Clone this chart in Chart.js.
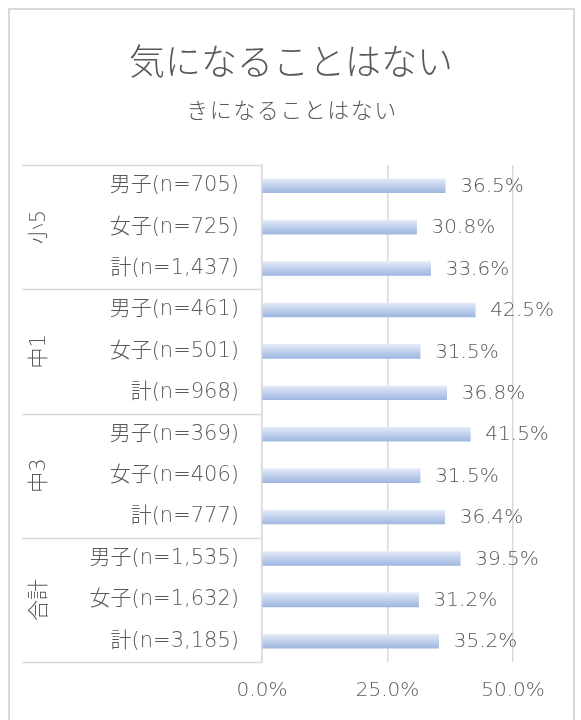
<!DOCTYPE html>
<html>
<head>
<meta charset="utf-8">
<script src="https://cdn.jsdelivr.net/npm/chart.js@4"></script>
<style>
  html, body { margin: 0; padding: 0; background: #fff; }
  #wrap { width: 581px; height: 720px; }
</style>
</head>
<body>
<div id="wrap"><canvas id="chart" width="581" height="720"></canvas></div>
<script>
// data
const title = '気になることはない';
const subtitle = 'きになることはない';
const groups = ['小5', '中1', '中3', '合計'];
const rowLabels = [
  '男子(n=705)', '女子(n=725)', '計(n=1,437)',
  '男子(n=461)', '女子(n=501)', '計(n=968)',
  '男子(n=369)', '女子(n=406)', '計(n=777)',
  '男子(n=1,535)', '女子(n=1,632)', '計(n=3,185)'
];
const values = [36.5, 30.8, 33.6, 42.5, 31.5, 36.8, 41.5, 31.5, 36.4, 39.5, 31.2, 35.2];
const xTicks = [0, 25, 50];

const CJK = '"Noto Sans CJK JP", sans-serif';
const NUM_FONT = '"DejaVu Sans", ' + CJK;
const TEXT = '#595959';
const LINE = '#d9d9d9';
const perGroup = 3;

// soft vertical gradient for each bar
const barFill = (c) => {
  const chart = c.chart;
  const ys = chart.scales.y;
  if (!ys || c.dataIndex === undefined) return '#b4c7e7';
  const cy = ys.getPixelForValue(c.dataIndex);
  if (!isFinite(cy)) return '#b4c7e7';
  const g = chart.ctx.createLinearGradient(0, cy - 7, 0, cy + 7);
  g.addColorStop(0, '#e4ebf7');
  g.addColorStop(0.45, '#c3d2ed');
  g.addColorStop(1, '#9fb7e0');
  return g;
};

// outer frame and titles
const framePlugin = {
  id: 'frame',
  beforeDraw(chart) {
    const ctx = chart.ctx;
    ctx.save();
    ctx.fillStyle = '#fff';
    ctx.fillRect(0, 0, chart.width, chart.height);
    ctx.strokeStyle = LINE;
    ctx.lineWidth = 2;
    ctx.strokeRect(9, 9, 565, 730);
    ctx.fillStyle = TEXT;
    ctx.textAlign = 'center';
    ctx.textBaseline = 'middle';
    ctx.font = '300 36px ' + CJK;
    ctx.fillText(title, 291, 61);
    ctx.font = '300 22px ' + CJK;
    ctx.letterSpacing = '1.5px';
    ctx.fillText(subtitle, 292, 110);
    ctx.restore();
  }
};

// group lines and rotated group names on the left
const groupPlugin = {
  id: 'groups',
  afterDraw(chart) {
    const ctx = chart.ctx;
    const ys = chart.scales.y;
    const half = (ys.getPixelForValue(1) - ys.getPixelForValue(0)) / 2;
    ctx.save();
    ctx.strokeStyle = LINE;
    ctx.lineWidth = 1.5;
    for (let g = 0; g <= groups.length; g++) {
      const idx = g * perGroup;
      const y = Math.round(ys.getPixelForValue(Math.min(idx, values.length - 1)) + (idx < values.length ? -half : half)) + 0.5;
      ctx.beginPath();
      ctx.moveTo(22, y);
      ctx.lineTo(ys.right, y);
      ctx.stroke();
    }
    ctx.fillStyle = TEXT;
    ctx.font = '200 21px ' + NUM_FONT;
    ctx.textAlign = 'center';
    ctx.textBaseline = 'middle';
    groups.forEach((name, g) => {
      const a = ys.getPixelForValue(g * perGroup);
      const b = ys.getPixelForValue(g * perGroup + perGroup - 1);
      ctx.save();
      ctx.translate(40, (a + b) / 2);
      ctx.rotate(-Math.PI / 2);
      ctx.fillText(name, 0, 0);
      ctx.restore();
    });
    ctx.restore();
  }
};

// value labels to the right of the bars
const valuePlugin = {
  id: 'values',
  afterDatasetsDraw(chart) {
    const ctx = chart.ctx;
    const meta = chart.getDatasetMeta(0);
    ctx.save();
    ctx.fillStyle = TEXT;
    ctx.font = '200 20px ' + NUM_FONT;
    ctx.textAlign = 'left';
    ctx.textBaseline = 'middle';
    meta.data.forEach((bar, i) => {
      ctx.fillText(values[i].toFixed(1) + '%', bar.x + 15, bar.y + 1);
    });
    ctx.restore();
  }
};

new Chart(document.getElementById('chart'), {
  type: 'bar',
  data: {
    labels: rowLabels,
    datasets: [{
      data: values,
      backgroundColor: barFill,
      borderWidth: 0,
      barThickness: 14
    }]
  },
  options: {
    indexAxis: 'y',
    responsive: false,
    animation: false,
    layout: { padding: { left: 0, right: 68, top: 165, bottom: 0 } },
    scales: {
      x: {
        min: 0,
        max: 50,
        afterBuildTicks: (s) => { s.ticks = xTicks.map(v => ({ value: v })); },
        afterFit: (s) => { s.height = 58; },
        border: { display: false },
        grid: { color: LINE, lineWidth: 1.5, drawTicks: false },
        ticks: {
          padding: 17,
          color: TEXT,
          font: { family: NUM_FONT, size: 20, weight: '200' },
          callback: (v) => v.toFixed(1) + '%'
        }
      },
      y: {
        afterFit: (s) => { s.width = 262; },
        border: { display: true, color: LINE, width: 1.5 },
        grid: { display: false, drawTicks: false },
        ticks: {
          padding: 23,
          color: TEXT,
          font: { family: NUM_FONT, size: 21, weight: '200' }
        }
      }
    },
    plugins: {
      legend: { display: false },
      tooltip: { enabled: false }
    }
  },
  plugins: [framePlugin, groupPlugin, valuePlugin]
});
</script>
</body>
</html>
